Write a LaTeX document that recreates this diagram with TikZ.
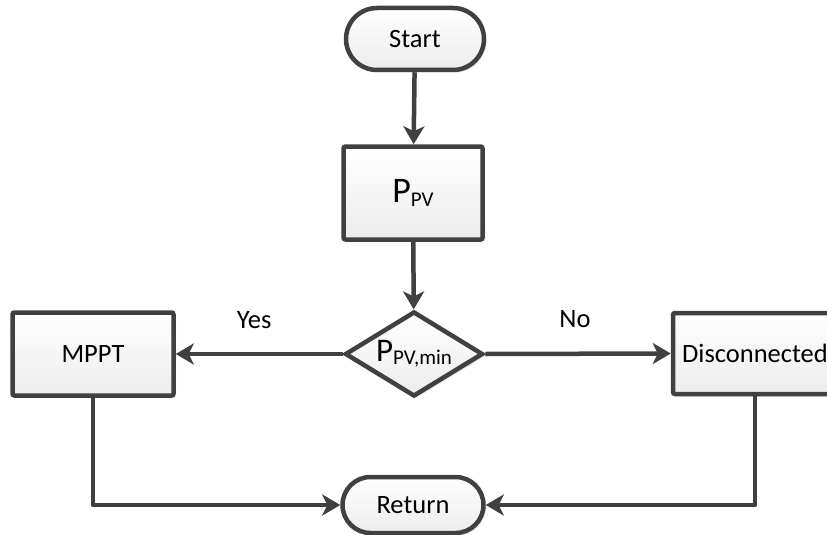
\documentclass[tikz,border=0pt]{standalone}
\usepackage{fontspec}
\setmainfont{Carlito}
\usetikzlibrary{arrows.meta,shapes.misc,shapes.geometric,shadows}

\definecolor{edge}{HTML}{404040}
\definecolor{fillbot}{HTML}{ECECEC}

\newcommand{\bigsub}[3]{{\fontsize{#1}{#1}\selectfont P}\raisebox{-3.5pt}{\fontsize{21}{21}\selectfont #2}#3}

\tikzset{
  box/.style={draw=edge, line width=4.5pt, top color=white, bottom color=fillbot,
    drop shadow={opacity=0.18, shadow xshift=2.5pt, shadow yshift=-2.5pt},
    font=\fontsize{26.5}{29}\selectfont, text=black, inner sep=0pt},
  procbox/.style={box, rectangle, rounded corners=2pt},
  terminal/.style={box, rounded rectangle},
  decision/.style={box, diamond},
  flow/.style={draw=edge, line width=4.5pt, line join=round,
    -{Stealth[length=18pt, width=21pt, inset=5pt]}},
  answer/.style={font=\fontsize{26.5}{29}\selectfont, text=black}
}

\begin{document}
\begin{tikzpicture}[x=1pt, y=-1pt]
  \useasboundingbox (0,0) rectangle (827,535);
  \clip (0,0) rectangle (827,535);

  % blocks
  \node[terminal, minimum width=138pt, minimum height=62pt] (start) at (415,39) {Start};
  \node[procbox, minimum width=139pt, minimum height=93pt] (ppv) at (413,193) {\bigsub{36}{PV}{}};
  \node[decision, minimum width=138pt, minimum height=85pt] (dec) at (414,354) {};
  \node[answer] (declabel) at (dec.center) {\bigsub{33}{PV,min}{}};
  \node[procbox, minimum width=161pt, minimum height=83pt] (mppt) at (93,354) {MPPT};
  \node[procbox, minimum width=164pt, minimum height=81pt] (disc) at (755,353.5) {Disconnected};
  \node[terminal, minimum width=141pt, minimum height=56pt] (ret) at (413,505) {Return};

  % connectors
  \draw[flow] (start) -- (ppv);
  \draw[flow] (ppv) -- (dec);
  \draw[flow] (dec.west) -- node[answer, midway, above=20pt, xshift=-5pt] (yes) {Yes} (mppt.east);
  \draw[flow] (dec.east) -- node[answer, midway, above=20pt, xshift=-3pt] (no) {No} (disc.west);
  \draw[flow] (mppt.south) |- (ret.west);
  \draw[flow] (disc.south) |- (ret.east);
\end{tikzpicture}
\end{document}
